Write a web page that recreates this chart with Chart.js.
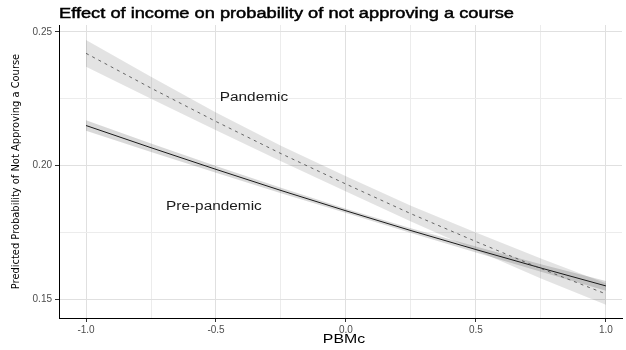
<!DOCTYPE html>
<html lang="en">
<head>
<meta charset="utf-8">
<title>Effect of income on probability of not approving a course</title>
<script src="https://cdn.jsdelivr.net/npm/chart.js"></script>
<style>
  html, body { margin: 0; padding: 0; background: #fff; }
  #wrap { width: 626px; height: 350px; }
</style>
</head>
<body>
<div id="wrap"><canvas id="effectChart" width="626" height="350"></canvas></div>
<script>
// values
const pbmc = [-1.0, -0.75, -0.5, -0.25, 0.0, 0.25, 0.5, 0.75, 1.0];

const pandemicFit  = [0.2420, 0.2290, 0.2165, 0.2045, 0.1931, 0.1820, 0.1716, 0.1615, 0.1520];
const pandemicLow  = [0.2370, 0.2250, 0.2132, 0.2016, 0.1903, 0.1791, 0.1683, 0.1578, 0.1480];
const pandemicHigh = [0.2470, 0.2332, 0.2199, 0.2074, 0.1960, 0.1850, 0.1750, 0.1653, 0.1560];

const preFit  = [0.2150, 0.2067, 0.1986, 0.1907, 0.1831, 0.1757, 0.1686, 0.1617, 0.1550];
const preLow  = [0.2130, 0.2051, 0.1973, 0.1897, 0.1823, 0.1748, 0.1675, 0.1603, 0.1532];
const preHigh = [0.2170, 0.2083, 0.1999, 0.1917, 0.1839, 0.1766, 0.1697, 0.1631, 0.1568];

const xTicks = [-1.0, -0.75, -0.5, -0.25, 0.0, 0.25, 0.5, 0.75, 1.0];
const xMajor = [-1.0, -0.5, 0.0, 0.5, 1.0];
const yTicks = [0.15, 0.175, 0.20, 0.225, 0.25];
const yMajor = [0.15, 0.20, 0.25];

const chartTitle = 'Effect of income on probability of not approving a course';
const xTitle = 'PBMc';
const groupLabels = [
  { text: 'Pandemic', x: -0.354, y: 0.2253 },
  { text: 'Pre-pandemic', x: -0.508, y: 0.1845 }
];

const pts = (ys) => pbmc.map((x, i) => ({ x: x, y: ys[i] }));
const isMajor = (list, v) => list.some(m => Math.abs(m - v) < 1e-9);

// the reference text is a bit wide, so draw it stretched sideways
function wideText(c, text, x, y, sx, stroke) {
  c.save();
  c.translate(x, y);
  c.scale(sx, 1);
  c.fillText(text, 0, 0);
  if (stroke) {
    c.lineWidth = stroke;
    c.strokeText(text, 0, 0);
  }
  c.restore();
}

const textPlugin = {
  id: 'textPlugin',
  afterDraw(chart) {
    const c = chart.ctx;
    const xs = chart.scales.x, ys = chart.scales.y;
    c.save();
    c.textBaseline = 'middle';

    c.fillStyle = '#000';
    c.strokeStyle = '#000';
    c.font = '14px "Liberation Sans", Arial, sans-serif';
    c.textAlign = 'left';
    const w = c.measureText(chartTitle).width;
    wideText(c, chartTitle, chart.chartArea.left, 14, 455 / w, 0.45);

    c.font = '12px "Liberation Sans", Arial, sans-serif';
    c.fillStyle = '#1a1a1a';
    c.textAlign = 'center';
    groupLabels.forEach(l => {
      wideText(c, l.text, xs.getPixelForValue(l.x), ys.getPixelForValue(l.y), 1.28);
    });

    c.fillStyle = '#000';
    wideText(c, xTitle, xs.getPixelForValue(0) - 2, 340, 1.32);
    c.restore();
  }
};

const ctx = document.getElementById('effectChart').getContext('2d');
new Chart(ctx, {
  type: 'line',
  data: {
    datasets: [
      { label: 'pandemicLow', data: pts(pandemicLow), borderWidth: 0, pointRadius: 0, fill: false, order: 2 },
      { label: 'pandemicHigh', data: pts(pandemicHigh), borderWidth: 0, pointRadius: 0,
        fill: '-1', backgroundColor: 'rgba(0,0,0,0.11)', order: 2 },
      { label: 'preLow', data: pts(preLow), borderWidth: 0, pointRadius: 0, fill: false, order: 2 },
      { label: 'preHigh', data: pts(preHigh), borderWidth: 0, pointRadius: 0,
        fill: '-1', backgroundColor: 'rgba(0,0,0,0.15)', order: 2 },
      { label: 'Pandemic', data: pts(pandemicFit), borderColor: '#444', borderWidth: 0.8,
        borderDash: [3, 4], pointRadius: 0, fill: false, order: 0 },
      { label: 'Pre-pandemic', data: pts(preFit), borderColor: '#1a1a1a', borderWidth: 1,
        pointRadius: 0, fill: false, order: 0 }
    ]
  },
  options: {
    responsive: false,
    animation: false,
    layout: { padding: { top: 25, right: 4, left: 0, bottom: 0 } },
    plugins: {
      legend: { display: false },
      tooltip: { enabled: false },
      title: { display: false }
    },
    scales: {
      x: {
        type: 'linear',
        min: -1.104,
        max: 1.062,
        afterBuildTicks: (s) => { s.ticks = xTicks.map(v => ({ value: v })); },
        afterFit: (s) => { s.height = 32; },
        border: { color: '#000', width: 1 },
        grid: {
          color: (c) => isMajor(xMajor, c.tick.value) ? '#e0e0e0' : '#ececec',
          tickColor: (c) => isMajor(xMajor, c.tick.value) ? '#333' : 'rgba(0,0,0,0)',
          tickLength: 4
        },
        ticks: {
          autoSkip: false,
          maxRotation: 0,
          padding: 2,
          color: '#4d4d4d',
          font: { family: '"Liberation Sans", Arial, sans-serif', size: 10 },
          callback: (v) => isMajor(xMajor, v) ? v.toFixed(1) : ''
        }
      },
      y: {
        type: 'linear',
        min: 0.1430,
        max: 0.2526,
        afterBuildTicks: (s) => { s.ticks = yTicks.map(v => ({ value: v })); },
        afterFit: (s) => { s.width = 59; },
        border: { color: '#000', width: 1 },
        grid: {
          color: (c) => isMajor(yMajor, c.tick.value) ? '#e0e0e0' : '#ececec',
          tickColor: (c) => isMajor(yMajor, c.tick.value) ? '#333' : 'rgba(0,0,0,0)',
          tickLength: 4
        },
        ticks: {
          autoSkip: false,
          padding: 3,
          color: '#4d4d4d',
          font: { family: '"Liberation Sans", Arial, sans-serif', size: 10 },
          callback: (v) => isMajor(yMajor, v) ? v.toFixed(2) : ''
        },
        title: {
          display: true,
          text: 'Predicted Probability of Not Approving a Course',
          color: '#000',
          font: { family: '"Liberation Sans Narrow", "DejaVu Sans Condensed", sans-serif', size: 11 },
          padding: { top: 10, bottom: 0 }
        }
      }
    }
  },
  plugins: [textPlugin]
});
</script>
</body>
</html>
